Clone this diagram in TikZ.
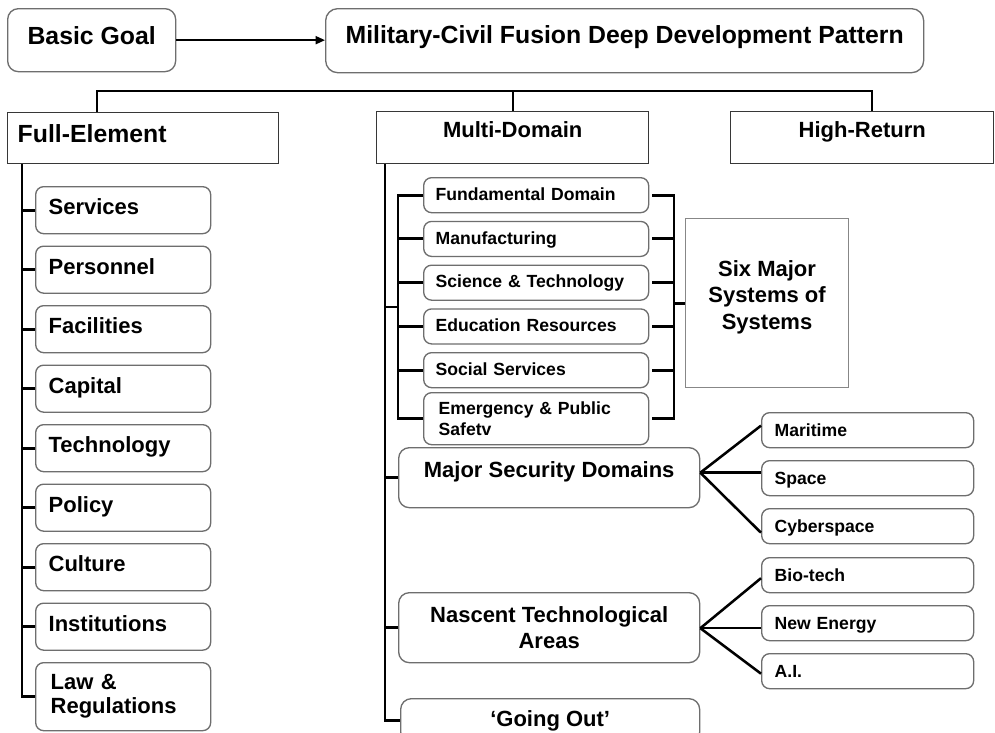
\documentclass[tikz,border=0pt]{standalone}
\usepackage{fontspec}
\setmainfont{Liberation Sans}
\usetikzlibrary{arrows.meta}
\definecolor{bgray}{RGB}{110,110,110}
\definecolor{sgray}{RGB}{55,55,55}
\definecolor{tgray}{RGB}{135,135,135}
\begin{document}
\begin{tikzpicture}[x=0.75pt,y=-0.75pt,
  base/.style={anchor=north west, inner sep=0pt, text=black},
  sz/.style 2 args={minimum width=#1*0.75pt, minimum height=#2*0.75pt},
  rbox/.style={base, draw=bgray, line width=1pt, rounded corners=6pt},
  sbox/.style={base, draw=sgray, line width=1.1pt},
  fbig/.style={font=\bfseries\fontsize{18.6pt}{22pt}\selectfont, text height=13.3pt},
  fmid/.style={font=\bfseries\fontsize{16.5pt}{19pt}\selectfont},
  cmid/.style={fmid, text height=11.8pt},
  fsm/.style={font=\bfseries\fontsize{13.2pt}{15.75pt}\selectfont},
  csm/.style={fsm, text height=9.45pt},
  lbox/.style={rbox, sz={175}{47}, cmid, align=left, inner xsep=9.75pt, text width=111.75pt, text depth=5.25pt},
  mbox/.style={rbox, sz={225}{35}, csm, align=left, inner xsep=9pt, text width=150.75pt, text depth=1.5pt},
  rsbox/.style={rbox, sz={212}{35}, csm, align=left, inner xsep=9.75pt, text width=139.5pt, text depth=0pt},
  conn/.style={draw=black, line width=2.2pt},
  fan/.style={draw=black, line width=1.9pt},
  bus/.style={draw=black, line width=1.5pt}
]
\path[use as bounding box, fill=white] (0,0) rectangle (995,732);

% top row
\node[rbox, rounded corners=8pt, sz={168}{63}, fbig, text depth=6.75pt] (bg) at (7,8) {Basic Goal};
\node[rbox, rounded corners=9pt, sz={598}{64}, fbig, text depth=9pt] (mcf) at (325,8) {Military-Civil Fusion Deep Development Pattern};

% second row
\node[sbox, sz={271}{51}, fbig, text depth=6.75pt, align=left, inner xsep=7.5pt, text width=188.25pt] (fe) at (7,112) {Full-Element};
\node[sbox, sz={272}{52}, cmid, text depth=12.75pt] (md) at (376,111) {Multi-Domain};
\node[sbox, sz={263}{52}, cmid, text depth=12pt] (hr) at (730,111) {High-Return};

% left column
\node[lbox] (svc) at (35,186) {Services};
\node[lbox] (per) at (35,245.5) {Personnel};
\node[lbox] (fac) at (35,305) {Facilities};
\node[lbox] (cap) at (35,364.5) {Capital};
\node[lbox] (tec) at (35,424) {Technology};
\node[lbox] (pol) at (35,483.5) {Policy};
\node[lbox] (cul) at (35,543) {Culture};
\node[lbox] (ins) at (35,602.5) {Institutions};
\node[rbox, sz={175}{68}, font=\bfseries\fontsize{16.5pt}{18pt}\selectfont, align=left, inner xsep=11.25pt, text width=108.75pt] (law) at (35,662) {Law \&\\Regulations};

% six systems
\node[mbox] (fd) at (423,177) {Fundamental Domain};
\node[mbox] (mf) at (423,220.75) {Manufacturing};
\node[mbox] (st) at (423,264.5) {Science \& Technology};
\node[mbox] (ed) at (423,308.25) {Education Resources};
\node[mbox] (ss) at (423,352) {Social Services};
\node[rbox, sz={225}{52}, fsm, align=left, inner xsep=11.25pt, text width=146.25pt] (em) at (423,392) {Emergency \& Public\\Safetv};
\node[base, draw=tgray, line width=0.8pt, sz={163}{169}, font=\bfseries\fontsize{16.5pt}{19.9pt}\selectfont, align=center] (six) at (685,218) {Six Major\\Systems of\\Systems\rule[-12.5pt]{0pt}{12.5pt}};

% domains
\node[rbox, rounded corners=8pt, sz={301}{60}, cmid, text depth=12.75pt] (msd) at (398,447) {Major Security Domains};
\node[rbox, rounded corners=8pt, sz={301}{70}, font=\bfseries\fontsize{16.5pt}{19.5pt}\selectfont, align=center] (nta) at (398,592) {Nascent Technological\\Areas};
\node[rbox, rounded corners=8pt, sz={299}{44}, cmid, text depth=3pt] (go) at (400,698) {‘Going Out’};

\node[rsbox] (mar) at (761,412) {Maritime};
\node[rsbox] (spa) at (761,460) {Space};
\node[rsbox] (cyb) at (761,508) {Cyberspace};
\node[rsbox] (bio) at (761,557) {Bio-tech};
\node[rsbox] (ne) at (761,605) {New Energy};
\node[rsbox] (ai) at (761,653) {A.I.};

% connectors
\draw[line width=1.3pt, -{Triangle[length=7pt,width=6pt]}] (bg.east) -- (bg.east -| mcf.west);

\coordinate (busL) at (97,91);
\coordinate (busR) at (872,91);
\draw[bus] (busL |- fe.north) -- (busL) -- (busR) -- (busR |- hr.north);
\draw[bus] (md.north) -- (md.north |- busL);

\coordinate (lt) at (22,0);
\draw[conn] (lt |- fe.south) -- (lt |- law.west) -- (law.west);
\foreach \n in {svc,per,fac,cap,tec,pol,cul,ins} \draw[conn] (lt |- \n.west) -- (\n.west);

\coordinate (mt) at (385,0);
\draw[conn] (mt |- md.south) -- (mt |- go.west) -- (go.west);
\draw[conn] (mt |- msd.west) -- (msd.west);
\draw[conn] (mt |- nta.west) -- (nta.west);

\coordinate (sb) at (398,0);
\coordinate (jn) at (398,307);
\draw[conn] (fd.west) -- (sb |- fd.west) -- (sb |- em.west) -- (em.west);
\foreach \n in {mf,st,ed,ss} \draw[conn] (sb |- \n.west) -- (\n.west);
\draw[conn] (mt |- jn) -- (jn);

\coordinate (rbk) at (674,0);
\draw[conn] ([xshift=2.25pt]fd.east) -- (rbk |- fd.east) -- (rbk |- em.east) -- ([xshift=2.25pt]em.east);
\foreach \n in {mf,st,ed,ss} \draw[conn, shorten <=2.25pt] (\n.east) -- (rbk |- \n.east);
\draw[conn] (rbk |- six.west) -- (six.west);

\coordinate (mo) at ([yshift=3.75pt]msd.east);
\draw[fan] (mo) -- ([yshift=3.4pt]mar.west);
\draw[fan] (mo) -- (mo -| spa.west);
\draw[fan] (mo) -- ([yshift=-4.9pt]cyb.west);
\coordinate (no) at ([yshift=-0.4pt]nta.east);
\draw[fan] (no) -- ([yshift=-2.25pt]bio.west);
\draw[fan] (no) -- (no -| ne.west);
\draw[fan] (no) -- ([yshift=-1.9pt]ai.west);
\end{tikzpicture}
\end{document}
